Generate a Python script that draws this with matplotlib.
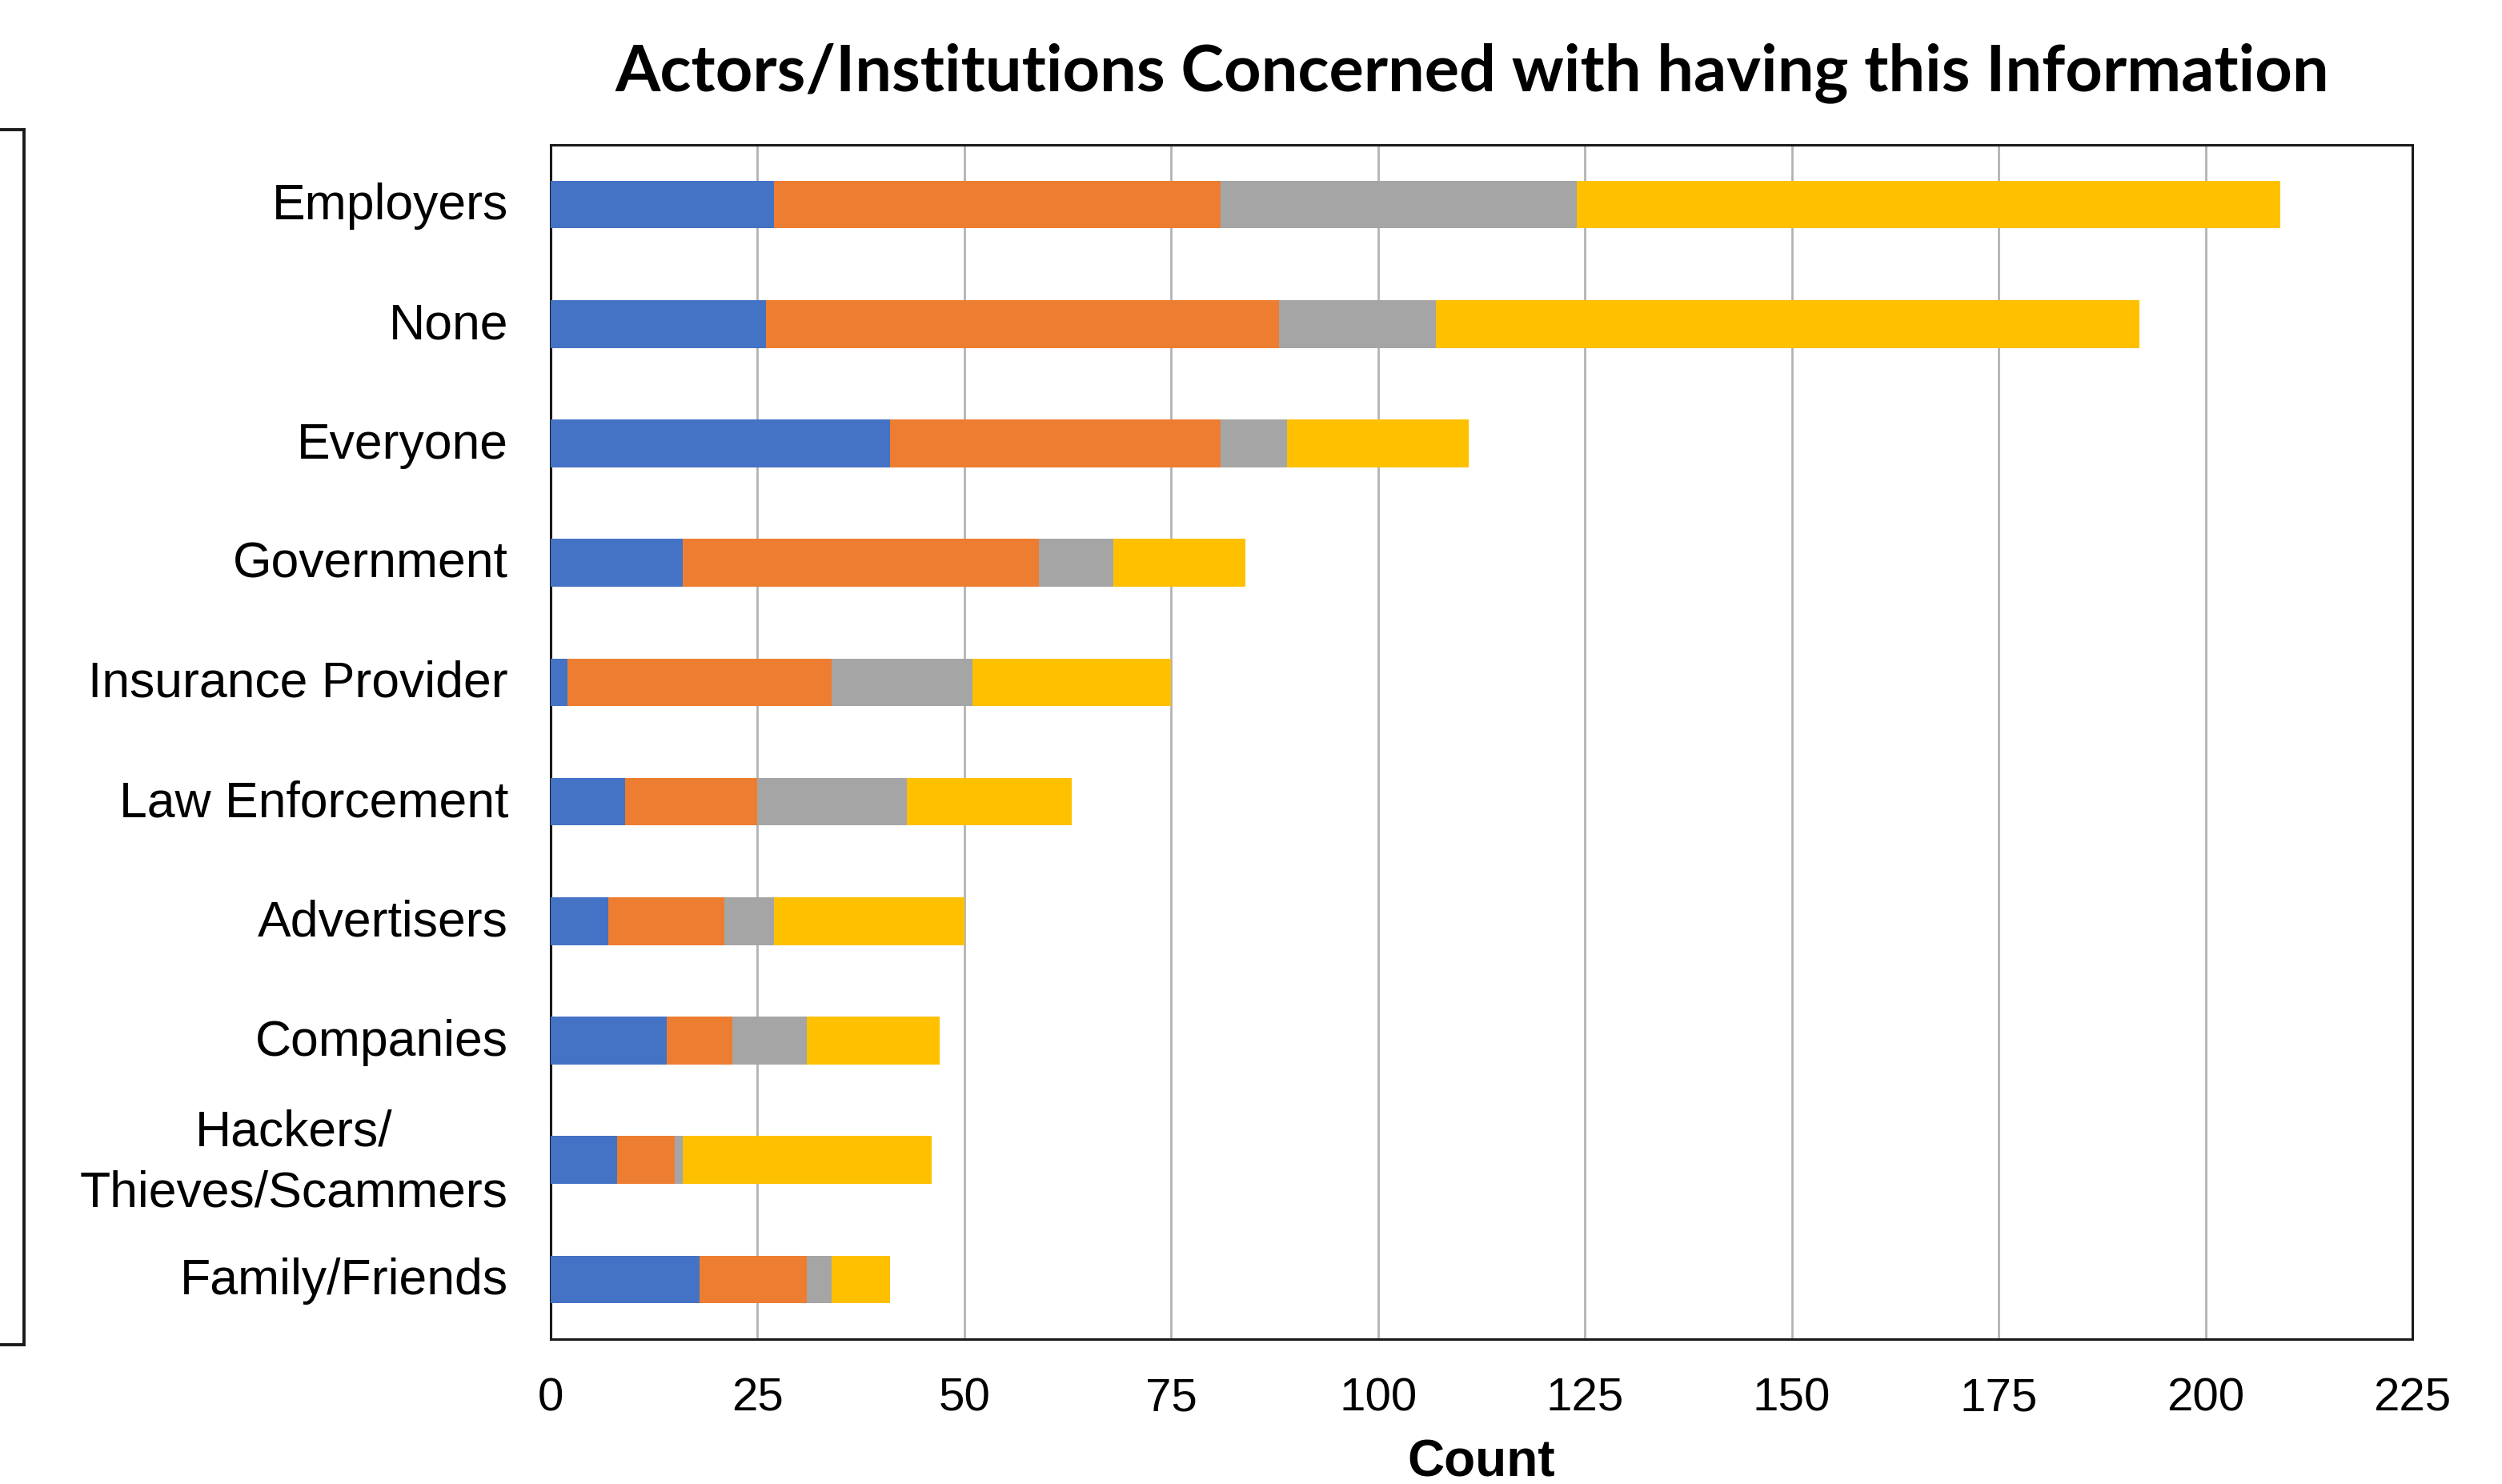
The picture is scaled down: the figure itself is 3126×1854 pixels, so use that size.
import matplotlib
matplotlib.use("Agg")
import matplotlib.pyplot as plt
from matplotlib.lines import Line2D
from matplotlib.transforms import ScaledTranslation
import numpy as np

categories = ["Employers", "None", "Everyone", "Government", "Insurance Provider",
              "Law Enforcement", "Advertisers", "Companies",
              "Hackers/\nThieves/Scammers", "Family/Friends"]
series_1 = [27, 26, 41, 16, 2, 9, 7, 14, 8, 18]
series_2 = [54, 62, 40, 43, 32, 16, 14, 8, 7, 13]
series_3 = [43, 19, 8, 9, 17, 18, 6, 9, 1, 3]
series_4 = [85, 85, 22, 16, 24, 20, 23, 16, 30, 7]
x_ticks = [0, 25, 50, 75, 100, 125, 150, 175, 200, 225]
title = "Actors/Institutions Concerned with having this Information"
x_label = "Count"

colors = ["#4472C4", "#ED7D31", "#A5A5A5", "#FFC000"]

W, H, DPI = 3126, 1854, 200
fig = plt.figure(figsize=(W / DPI, H / DPI), dpi=DPI)
fig.patch.set_facecolor("white")

ax = fig.add_axes([688 / W, 1 - 1673 / H, (3014 - 688) / W, (1673 - 181) / H])

y = np.arange(len(categories))
left = np.zeros(len(categories))
for vals, c in zip([series_1, series_2, series_3, series_4], colors):
    ax.barh(y, vals, left=left, height=0.4, color=c, linewidth=0, zorder=3)
    left = left + np.array(vals)

ax.set_ylim(len(categories) - 0.5, -0.5)
ax.set_xlim(0, 225)
ax.set_xticks(x_ticks)
ax.set_yticks(y)
ax.set_yticklabels([])
# category labels, placed at the tick positions through the y-axis transform
for yi, cat in zip(y, categories):
    dy = -4 if "\n" in cat else -2
    tr = ax.get_yaxis_transform() + ScaledTranslation(-53 / DPI, dy / DPI, fig.dpi_scale_trans)
    ax.text(0, yi, cat, transform=tr, ha="right", va="center",
            fontfamily="Liberation Sans", fontsize=22.5,
            linespacing=1.38, multialignment="center")
for lbl in ax.get_xticklabels():
    lbl.set_fontfamily("Liberation Sans")
    lbl.set_fontsize(21)
ax.tick_params(axis="both", length=0)
ax.tick_params(axis="x", pad=17)
ax.xaxis.grid(True, color="#B3B3B3", linewidth=1.0, zorder=0)
ax.set_axisbelow(True)
for sp in ax.spines.values():
    sp.set_color("#1a1a1a")
    sp.set_linewidth(1.1)

ax.set_xlabel(x_label, fontfamily="Liberation Sans", fontsize=23,
              fontweight="bold", labelpad=8.5)

fig.text(1839 / W, 1 - 113 / H, title, fontfamily="Lato", fontweight="bold",
         fontsize=29.2, ha="center", va="baseline")

# partial frame of a neighbouring panel at the left edge
lw = 1.4
fig.add_artist(Line2D([0, 30 / W], [1 - 162 / H, 1 - 162 / H], color="#1a1a1a", lw=lw))
fig.add_artist(Line2D([30 / W, 30 / W], [1 - 162 / H, 1 - 1680 / H], color="#1a1a1a", lw=lw))
fig.add_artist(Line2D([0, 30 / W], [1 - 1680 / H, 1 - 1680 / H], color="#1a1a1a", lw=lw))

fig.savefig("out.png", dpi=DPI, facecolor="white")
